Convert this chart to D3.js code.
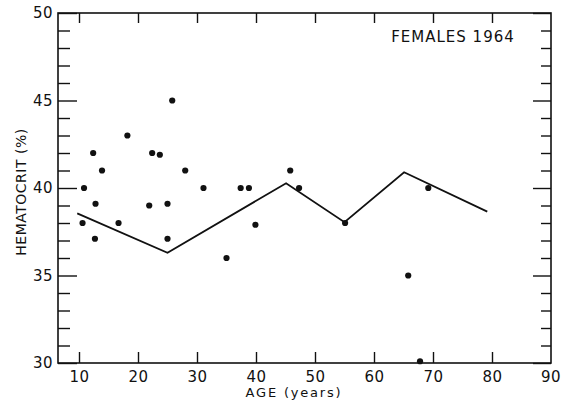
<!DOCTYPE html>
<html>
<head>
<meta charset="utf-8">
<script src="https://cdn.jsdelivr.net/npm/d3@7"></script>
<style>
  body { margin: 0; background: #fff; }
  svg { display: block; }
  text { font-family: "DejaVu Sans", sans-serif; fill: #111; }
</style>
</head>
<body>
<svg id="chart" width="563" height="400"></svg>
<script>
// individual hematocrit readings (age in years, hematocrit %)
const ages = [18.2, 12.4, 22.4, 23.7, 13.9, 28.0, 10.85, 12.8, 21.9, 25.0, 10.6, 16.7, 12.7, 25.0,
              25.8, 45.8, 31.1, 37.4, 38.8, 47.3, 39.9, 35.0, 55.1, 69.2, 65.8, 67.8];
const hematocrit = [43, 42, 42, 41.9, 41, 41, 40, 39.1, 39, 39.1, 38, 38, 37.1, 37.1,
                    45, 41, 40, 40, 40, 40, 37.9, 36, 38, 40, 35, 30.1];

// mean curve
const meanAges = [9.7, 25, 45.1, 55, 65.1, 79.2];
const meanValues = [38.55, 36.3, 40.27, 38.05, 40.9, 38.65];

const xTicks = [10, 20, 30, 40, 50, 60, 70, 80, 90];
const yMajor = [30, 35, 40, 45, 50];
const yMinor = d3.range(30, 51, 1);

const svg = d3.select("#chart");
const mLeft = 58, mRight = 551, mTop = 13, mBottom = 363;

const x = d3.scaleLinear().domain([6.44, 90]).range([mLeft, mRight]);
const y = d3.scaleLinear().domain([30, 50]).range([mBottom, mTop]);

const g = svg.append("g");

// frame
g.append("rect")
    .attr("x", mLeft).attr("y", mTop)
    .attr("width", mRight - mLeft).attr("height", mBottom - mTop)
    .attr("fill", "none").attr("stroke", "#111").attr("stroke-width", 1.6);

function styleAxis(sel) {
    sel.select(".domain").remove();
    sel.selectAll(".tick line").attr("stroke", "#111").attr("stroke-width", 1.4);
    sel.selectAll(".tick text").style("font-size", "15px").style("letter-spacing", "0.5px").attr("fill", "#111");
}

// bottom axis: ticks pointing up, labelled
g.append("g")
    .attr("transform", `translate(0,${mBottom})`)
    .call(d3.axisBottom(x).tickValues(xTicks.filter(d => d < 90)).tickSize(-11).tickPadding(8))
    .call(styleAxis);
// 90 label sits at the right edge
g.append("text")
    .attr("x", x(90)).attr("y", mBottom + 8).attr("dy", "0.71em")
    .attr("text-anchor", "middle").style("font-size", "15px").style("letter-spacing", "0.5px")
    .text("90");

// top axis ticks pointing down
g.append("g")
    .attr("transform", `translate(0,${mTop})`)
    .call(d3.axisTop(x).tickValues(xTicks.filter(d => d < 90)).tickSize(-10).tickFormat(""))
    .call(styleAxis);

// left axis: minor + major
g.append("g")
    .attr("transform", `translate(${mLeft},0)`)
    .call(d3.axisLeft(y).tickValues(yMinor.filter(d => d % 5 !== 0)).tickSize(-12).tickFormat(""))
    .call(styleAxis);
g.append("g")
    .attr("transform", `translate(${mLeft},0)`)
    .call(d3.axisLeft(y).tickValues(yMajor).tickSize(-19).tickPadding(5))
    .call(styleAxis);

// right axis: minor + major
g.append("g")
    .attr("transform", `translate(${mRight},0)`)
    .call(d3.axisRight(y).tickValues(yMinor.filter(d => d % 5 !== 0)).tickSize(-10).tickFormat(""))
    .call(styleAxis);
g.append("g")
    .attr("transform", `translate(${mRight},0)`)
    .call(d3.axisRight(y).tickValues(yMajor).tickSize(-18).tickFormat(""))
    .call(styleAxis);

// mean line
const line = d3.line().x(d => x(d[0])).y(d => y(d[1]));
g.append("path")
    .datum(meanAges.map((a, i) => [a, meanValues[i]]))
    .attr("d", line)
    .attr("fill", "none").attr("stroke", "#111").attr("stroke-width", 1.8)
    .attr("stroke-linejoin", "miter");

// points
g.append("g").selectAll("circle")
    .data(ages.map((a, i) => [a, hematocrit[i]]))
    .enter().append("circle")
    .attr("cx", d => x(d[0]))
    .attr("cy", d => y(d[1]))
    .attr("r", 3.1)
    .attr("fill", "#111");

// labels
svg.append("text")
    .attr("x", 453).attr("y", 42)
    .attr("text-anchor", "middle").style("font-size", "15px")
    .style("letter-spacing", "1px")
    .text("FEMALES 1964");

svg.append("text")
    .attr("x", 294).attr("y", 396.5)
    .attr("text-anchor", "middle").style("font-size", "13px")
    .style("letter-spacing", "1.8px")
    .text("AGE (years)");

svg.append("text")
    .attr("transform", "translate(26,192) rotate(-90)")
    .attr("text-anchor", "middle").style("font-size", "14px")
    .style("letter-spacing", "0.5px")
    .text("HEMATOCRIT (%)");
</script>
</body>
</html>
